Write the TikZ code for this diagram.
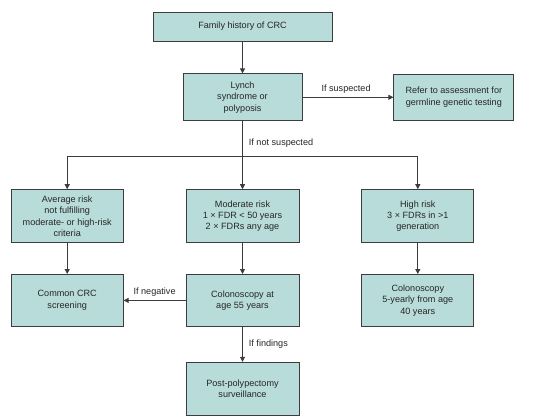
\documentclass[tikz,border=0pt]{standalone}
\usepackage{fontspec}
\setmainfont{Liberation Sans}
\usetikzlibrary{arrows.meta,positioning}
\definecolor{cteal}{HTML}{B8DCDA}
\definecolor{cline}{HTML}{3C3C3C}
\tikzset{
  box/.style={draw=cline,fill=cteal,line width=0.8pt,align=center,text=black!85,font=\fontsize{9.1}{11.4}\selectfont,inner sep=2pt,minimum width=112pt,minimum height=53pt},
  arr/.style={-{Triangle[length=5pt,width=5pt]},line width=0.8pt,draw=cline},
  lbl/.style={font=\fontsize{9.1}{11}\selectfont,text=black!85,inner sep=1pt},
}
\begin{document}
\begin{tikzpicture}
  \useasboundingbox[fill=white] (0,0) rectangle (540pt,-418pt);
  \node[box,minimum width=179pt,minimum height=29pt] (fam) at (242.5pt,-26.5pt) {Family history of CRC};
  \node[box,minimum width=119pt,minimum height=47pt,below=32pt of fam] (lynch) {Lynch\\ syndrome or\\ polyposis};
  \node[box,minimum width=120pt,minimum height=46pt,right=91pt of lynch] (refer) {Refer to assessment for\\ germline genetic testing};
  \node[box,minimum width=113pt,below=68pt of lynch] (mod) {Moderate risk\\ 1 × FDR < 50 years\\ 2 × FDRs any age};
  \node[box,left=62pt of mod] (avg) {Average risk\\ not fulfilling\\ moderate- or high-risk\\ criteria};
  \node[box,right=62pt of mod] (high) {High risk\\ 3 × FDRs in >1\\ generation};
  \node[box,minimum width=113pt,minimum height=52pt,below=31pt of mod] (colo) {Colonoscopy at\\ age 55 years};
  \node[box,minimum height=52pt,below=31pt of avg] (common) {Common CRC\\ screening};
  \node[box,minimum height=52pt,below=31pt of high] (colofive) {Colonoscopy\\ 5-yearly from age\\ 40 years};
  \node[box,minimum width=113pt,below=35pt of colo] (post) {Post-polypectomy\\ surveillance};
  \coordinate (split) at ([yshift=-35pt]lynch.south);
  % connectors
  \draw[arr] (fam) -- (lynch);
  \draw[arr] (lynch) -- node[lbl,above=3pt,pos=0.48] {If suspected} (refer);
  \draw[arr] (lynch) -- node[lbl,right=5pt,pos=0.32] {If not suspected} (mod);
  \draw[arr] (split) -| (avg);
  \draw[arr] (split) -| (high);
  \foreach \a/\b in {avg/common,mod/colo,high/colofive} \draw[arr] (\a) -- (\b);
  \draw[arr] (colo) -- node[lbl,above=3pt] {If negative} (common);
  \draw[arr] (colo) -- node[lbl,right=5pt] {If findings} (post);
\end{tikzpicture}
\end{document}
